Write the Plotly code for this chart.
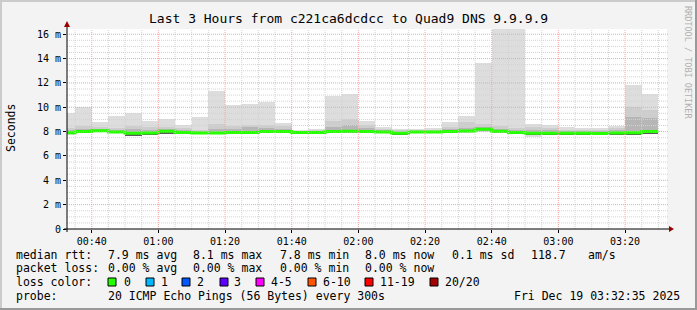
import plotly.graph_objects as go
import pandas as pd

# ---------------- data ----------------
day = "2025-12-19 "
times = ["00:35", "00:40", "00:45", "00:50", "00:55", "01:00", "01:05", "01:10", "01:15",
         "01:20", "01:25", "01:30", "01:35", "01:40", "01:45", "01:50", "01:55", "02:00",
         "02:05", "02:10", "02:15", "02:20", "02:25", "02:30", "02:35", "02:40", "02:45",
         "02:50", "02:55", "03:00", "03:05", "03:10", "03:15", "03:20", "03:25", "03:30"]
ping_max = [9.5, 10.05, 8.8, 9.3, 9.5, 8.9, 9.0, 8.55, 9.2,
            11.3, 10.2, 10.27, 10.46, 8.73, 8.13, 8.2, 10.95, 11.07,
            8.9, 8.35, 8.2, 8.2, 8.3, 8.79, 9.28, 13.67, 16.6,
            16.6, 8.63, 8.55, 8.35, 8.3, 8.27, 8.49, 11.83, 11.07]
ping_hi1 = [8.3, 8.45, 8.35, 8.3, 8.5, 8.4, 8.4, 8.3, 8.1,
            8.6, 8.5, 8.55, 8.55, 8.45, 8.08, 8.1, 8.9, 9.04,
            8.55, 8.2, 8.1, 8.1, 8.15, 8.4, 8.77, 8.6, 8.5,
            8.3, 8.4, 8.27, 8.15, 8.15, 8.15, 8.3, 10.05, 9.78]
ping_hi2 = [8.15, 8.25, 8.2, 8.15, 8.25, 8.15, 8.2, 8.1, 8.05,
            8.25, 8.25, 8.35, 8.3, 8.2, 8.03, 8.05, 8.4, 8.55,
            8.3, 8.1, 8.0, 8.05, 8.05, 8.2, 8.3, 8.35, 8.25,
            8.15, 8.15, 8.1, 8.05, 8.05, 8.05, 8.15, 9.18, 9.1]
median_rtt = [7.9, 8.0, 8.08, 7.97, 7.86, 7.89, 8.03, 7.92, 7.89,
              7.89, 7.92, 7.92, 8.0, 8.0, 7.92, 7.92, 8.0, 8.03,
              8.0, 7.97, 7.86, 7.97, 7.97, 8.0, 8.05, 8.19, 8.03,
              7.92, 7.86, 7.86, 7.86, 7.86, 7.84, 7.89, 7.9, 8.0]
core_lo = [7.82, 7.92, 8.0, 7.88, 7.66, 7.7, 7.83, 7.85, 7.82,
           7.82, 7.85, 7.8, 7.9, 7.92, 7.85, 7.85, 7.92, 7.95,
           7.92, 7.9, 7.78, 7.9, 7.9, 7.92, 7.97, 8.1, 7.95,
           7.85, 7.78, 7.78, 7.78, 7.78, 7.76, 7.7, 7.7, 7.82]
core_hi = [7.98, 8.1, 8.15, 8.05, 7.95, 7.97, 8.1, 8.0, 7.97,
           7.97, 8.0, 8.02, 8.1, 8.08, 7.98, 7.98, 8.1, 8.12,
           8.08, 8.03, 7.93, 8.03, 8.03, 8.08, 8.13, 8.27, 8.12,
           8.0, 7.93, 7.93, 7.93, 7.93, 7.9, 7.97, 7.97, 8.08]
ping_lo = [7.8, 7.88, 7.98, 7.86, 7.7, 7.74, 7.88, 7.82, 7.8,
           7.8, 7.82, 7.82, 7.88, 7.9, 7.84, 7.84, 7.9, 7.92,
           7.9, 7.88, 7.76, 7.88, 7.88, 7.9, 7.95, 8.08, 7.92,
           7.82, 7.7, 7.76, 7.78, 7.78, 7.76, 7.76, 7.76, 7.84]
ping_min = [7.75, 7.85, 7.95, 7.85, 7.7, 7.72, 7.85, 7.8, 7.8,
            7.8, 7.8, 7.8, 7.85, 7.85, 7.85, 7.85, 7.85, 7.85,
            7.85, 7.85, 7.7, 7.85, 7.85, 7.85, 7.9, 8.0, 7.9,
            7.8, 7.58, 7.7, 7.75, 7.75, 7.75, 7.75, 7.72, 7.8]

x_tick_text = ["00:40", "01:00", "01:20", "01:40", "02:00", "02:20", "02:40", "03:00", "03:20"]
y_tick_vals = [0, 2, 4, 6, 8, 10, 12, 14, 16]
y_tick_text = ["0", "2 m", "4 m", "6 m", "8 m", "10 m", "12 m", "14 m", "16 m"]

title_text = "Last 3 Hours from c221ca6dcdcc to Quad9 DNS 9.9.9.9"
rtt_label = "median rtt:"
rtt_stats = ["7.9 ms avg", "8.1 ms max", "7.8 ms min", "8.0 ms now", "0.1 ms sd", "118.7", "am/s"]
loss_label = "packet loss:"
loss_stats = ["0.00 % avg", "0.00 % max", "0.00 % min", "0.00 % now"]
color_label = "loss color:"
loss_labels = ["0", "1", "2", "3", "4-5", "6-10", "11-19", "20/20"]
loss_colors = ["#26ff00", "#00b8ff", "#0059ff", "#5e00ff", "#ff00ff", "#ff5500", "#ff0000", "#a00000"]
probe_label = "probe:"
probe_text = "20 ICMP Echo Pings (56 Bytes) every 300s"
stamp_text = "Fri Dec 19 03:32:35 2025"
start_time = day + "00:32:35"
end_time = day + "03:32:35"

# ---------------- geometry ----------------
W, H = 697, 310
L, T, PW, PH = 67, 29, 600, 200
Y_TOP = 16.43
FONT = "DejaVu Sans Mono"


def px(x):
    return (x - L) / PW


def py(y):
    return (T + PH - y) / PH


ends = pd.to_datetime([day + t for t in times])
starts = ends - pd.Timedelta(minutes=5)
STEP_MS = 300000

fig = go.Figure()


def smoke(lo, hi, color):
    fig.add_trace(go.Bar(
        x=ends, y=[h - l for h, l in zip(hi, lo)], base=lo,
        width=STEP_MS, offset=-STEP_MS,
        marker=dict(color=color, line=dict(width=0)),
        hoverinfo="skip", showlegend=False))


smoke(ping_min, ping_max, "#dddddd")
smoke(ping_lo, ping_hi1, "#cdcdcd")
smoke(ping_lo, ping_hi2, "#b6b6b6")
smoke(core_lo, core_hi, "#5a5a5a")

line_x = list(starts) + [ends[-1]]
line_y = list(median_rtt) + [median_rtt[-1]]
fig.add_trace(go.Scatter(x=line_x, y=line_y, mode="lines",
                         line=dict(color="#26ff00", width=3, shape="hv"),
                         hoverinfo="skip", showlegend=False))

shapes = []
# grid drawn above the smoke like rrdtool
t0 = pd.Timestamp(day + "00:35")
grid_times = pd.date_range(t0, pd.Timestamp(day + "03:30"), freq="5min")
for gt in grid_times:
    major = gt.minute % 20 == 0
    shapes.append(dict(type="line", xref="x", yref="paper", x0=gt, x1=gt, y0=0, y1=1,
                       layer="above",
                       line=dict(color="#f4a4a4" if major else "#d2d2d2", width=1, dash="1px,1px")))
gv = 0.5
while gv <= 16.5:
    major = abs(gv / 2 - round(gv / 2)) < 1e-9
    shapes.append(dict(type="line", xref="paper", yref="y", x0=0, x1=1.002, y0=gv, y1=gv,
                       layer="above",
                       line=dict(color="#f4a4a4" if major else "#d2d2d2", width=1, dash="1px,1px")))
    gv += 0.5

# axes lines + arrows
shapes.append(dict(type="line", xref="paper", yref="paper", x0=px(67), x1=px(67), y0=py(232), y1=py(23),
                   line=dict(color="black", width=1)))
shapes.append(dict(type="line", xref="paper", yref="paper", x0=px(64), x1=px(670), y0=py(229), y1=py(229),
                   line=dict(color="black", width=1)))
shapes.append(dict(type="path", xref="paper", yref="paper",
                   path=f"M {px(64)} {py(27)} L {px(70)} {py(27)} L {px(67)} {py(21)} Z",
                   fillcolor="#990000", line=dict(width=0)))
shapes.append(dict(type="path", xref="paper", yref="paper",
                   path=f"M {px(669)} {py(226)} L {px(669)} {py(232)} L {px(674)} {py(229)} Z",
                   fillcolor="#990000", line=dict(width=0)))

# image frame
shapes.append(dict(type="rect", xref="paper", yref="paper", x0=px(0), x1=px(697), y0=py(0), y1=py(2),
                   fillcolor="#cbcbcb", line=dict(width=0)))
shapes.append(dict(type="rect", xref="paper", yref="paper", x0=px(0), x1=px(2), y0=py(0), y1=py(310),
                   fillcolor="#cbcbcb", line=dict(width=0)))
shapes.append(dict(type="rect", xref="paper", yref="paper", x0=px(695), x1=px(697), y0=py(0), y1=py(310),
                   fillcolor="#999999", line=dict(width=0)))
shapes.append(dict(type="rect", xref="paper", yref="paper", x0=px(0), x1=px(697), y0=py(308), y1=py(310),
                   fillcolor="#999999", line=dict(width=0)))

annotations = []


def txt(x, y, s, anchor="left", size=11.5, color="#000000", angle=0):
    annotations.append(dict(text=s, x=px(x), y=py(y), xref="paper", yref="paper",
                            xanchor=anchor, yanchor="middle", showarrow=False,
                            textangle=angle, borderpad=0,
                            font=dict(family=FONT, size=size, color=color)))


txt(348, 19, title_text, anchor="center", size=13)
txt(11, 128, "Seconds", anchor="center", size=11.5, angle=-90)
txt(688, 62, "RRDTOOL / TOBI OETIKER", anchor="center", size=8.5, color="#b0b0b0", angle=90)

rtt_x = [107, 192, 279, 364, 451, 530, 587]
txt(15, 255, rtt_label)
for xx, s in zip(rtt_x, rtt_stats):
    txt(xx, 255, s)

loss_x = [107, 192, 279, 364]
txt(15, 268, loss_label)
for xx, s in zip(loss_x, loss_stats):
    txt(xx, 268, s)

txt(15, 282, color_label)
box_x = [108, 146, 182, 220, 256, 308, 365, 430]
lab_x = [123, 160, 196, 233, 270, 322, 379, 444]
for bx, lx, c, s in zip(box_x, lab_x, loss_colors, loss_labels):
    shapes.append(dict(type="rect", xref="paper", yref="paper", x0=px(bx), x1=px(bx + 8),
                       y0=py(278), y1=py(286), fillcolor=c, line=dict(color="black", width=1)))
    txt(lx, 282, s)

txt(15, 296, probe_label)
txt(107, 296, probe_text)
txt(681, 296, stamp_text, anchor="right")

x_tick_vals = pd.date_range(pd.Timestamp(day + "00:40"), periods=len(x_tick_text), freq="20min")

fig.update_layout(
    width=W, height=H,
    margin=dict(l=L, r=W - L - PW, t=T, b=H - T - PH, pad=0),
    paper_bgcolor="#f3f3f3", plot_bgcolor="#ffffff",
    barmode="overlay", bargap=0,
    showlegend=False, hovermode=False,
    shapes=shapes, annotations=annotations,
    xaxis=dict(type="date", range=[start_time, end_time], showgrid=False, zeroline=False,
               tickvals=list(x_tick_vals), ticktext=x_tick_text,
               ticks="outside", ticklen=3, tickcolor="black", showline=False,
               tickfont=dict(family=FONT, size=10, color="#000000"), fixedrange=True),
    yaxis=dict(range=[0, Y_TOP], showgrid=False, zeroline=False,
               tickvals=y_tick_vals, ticktext=y_tick_text,
               ticks="outside", ticklen=3, tickcolor="black", showline=False,
               tickfont=dict(family=FONT, size=10, color="#000000"), fixedrange=True),
)

fig.write_html("out.html")
